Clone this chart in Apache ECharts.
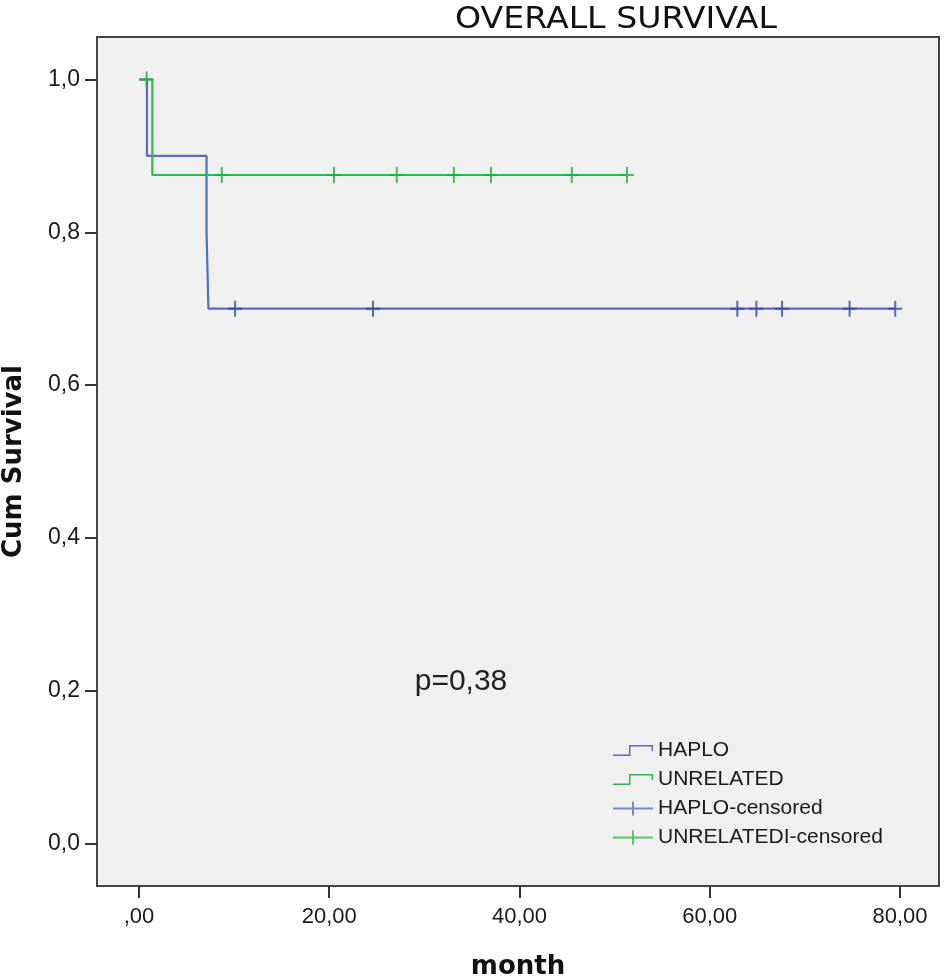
<!DOCTYPE html>
<html>
<head>
<meta charset="utf-8">
<title>Overall survival</title>
<script src="https://cdn.jsdelivr.net/npm/echarts@6/dist/echarts.min.js"></script>
<style>
    html, body { margin: 0; padding: 0; background: #fff; }
    #chart { width: 946px; height: 979px; }
</style>
</head>
<body>
<div id="chart"></div>
<script>
'use strict';

// Kaplan-Meier step points [month, cum survival]
var haploSteps = [[0, 1.0], [0.84, 0.9], [7.1, 0.8], [7.3, 0.7], [79.5, 0.7]];
var unrelatedSteps = [[0, 1.0], [1.4, 0.875], [51.3, 0.875]];

// censored observations
var haploCensored = [[10.1, 0.7], [24.6, 0.7], [62.9, 0.7], [64.9, 0.7], [67.6, 0.7], [74.7, 0.7], [79.5, 0.7]];
var unrelatedCensored = [[0.8, 1.0], [8.7, 0.875], [20.5, 0.875], [27.1, 0.875], [33.1, 0.875],
    [37.0, 0.875], [45.5, 0.875], [51.3, 0.875]];

var xTicks = [0, 20, 40, 60, 80];
var yTicks = [0, 0.2, 0.4, 0.6, 0.8, 1.0];

var blueLine = '#5a6bc0';
var blueMark = '#3347a6';
var greenLine = '#2fb845';
var greenMark = '#1fae3a';

var font = '"DejaVu Sans", "Liberation Sans", Arial, sans-serif';
var arial = '"Liberation Sans", Arial, sans-serif';

var stepIcon = 'path://M0,9.5 L16,9.5 L16,0 L40,0 L40,6 L38.5,6 L38.5,1.5 L17.5,1.5 L17.5,11 L0,11 Z';
var plusIcon = 'path://M0,6 L40,6 L40,8 L0,8 Z M19,0 L21,0 L21,14 L19,14 Z';
var censorSymbol = 'path://M0,7 L14,7 L14,9 L0,9 Z M6,0 L8,0 L8,16 L6,16 Z';

var chart = echarts.init(document.getElementById('chart'));

var option = {
    backgroundColor: '#ffffff',
    animation: false,
    grid: {
        left: 97,
        right: 7,
        top: 37,
        bottom: 93,
        outerBoundsMode: 'none',
        containLabel: false,
        show: true,
        backgroundColor: '#f0f0f0',
        borderColor: '#444444',
        borderWidth: 2
    },
    legend: {
        orient: 'vertical',
        left: 608,
        top: 735,
        itemWidth: 40,
        itemHeight: 14,
        itemGap: 8,
        textStyle: {
            fontFamily: arial,
            fontSize: 21,
            color: '#1a1a1a',
            lineHeight: 20
        },
        data: [
            {name: 'HAPLO', icon: stepIcon, itemStyle: {color: blueLine}},
            {name: 'UNRELATED', icon: stepIcon, itemStyle: {color: greenLine}},
            {name: 'HAPLO-censored', icon: plusIcon, itemStyle: {color: blueLine}},
            {name: 'UNRELATEDI-censored', icon: plusIcon, itemStyle: {color: greenLine}}
        ]
    },
    xAxis: {
        type: 'value',
        min: -4.415,
        max: 84.1,
        name: 'month',
        nameLocation: 'middle',
        nameGap: 68,
        nameTextStyle: {fontFamily: font, fontSize: 26, fontWeight: 'bold', color: '#111'},
        splitLine: {show: false},
        axisLine: {show: true, onZero: false, lineStyle: {color: '#444', width: 2}},
        axisTick: {
            show: true,
            inside: false,
            length: 12,
            customValues: xTicks,
            lineStyle: {color: '#333', width: 2}
        },
        axisLabel: {
            customValues: xTicks,
            margin: 20,
            fontFamily: arial,
            fontSize: 22,
            color: '#1a1a1a',
            formatter: function (v) {
                var s = v.toFixed(2).replace('.', ',');
                return v === 0 ? ',00' : s;
            }
        }
    },
    yAxis: {
        type: 'value',
        min: -0.0556,
        max: 1.0556,
        name: 'Cum Survival',
        nameLocation: 'middle',
        nameRotate: 90,
        nameGap: 70,
        nameTextStyle: {fontFamily: font, fontSize: 26, fontWeight: 'bold', color: '#111'},
        splitLine: {show: false},
        axisLine: {show: true, onZero: false, lineStyle: {color: '#444', width: 2}},
        axisTick: {
            show: true,
            inside: false,
            length: 12,
            customValues: yTicks,
            lineStyle: {color: '#333', width: 2}
        },
        axisLabel: {
            customValues: yTicks,
            margin: 17,
            fontFamily: arial,
            fontSize: 23,
            color: '#1a1a1a',
            formatter: function (v) {
                return v.toFixed(1).replace('.', ',');
            }
        }
    },
    graphic: [
        {
            type: 'text',
            x: 616,
            y: 20,
            scaleX: 1.07,
            style: {
                text: 'OVERALL SURVIVAL',
                fontFamily: font,
                fontSize: 31,
                fill: '#111',
                textAlign: 'center',
                textVerticalAlign: 'middle'
            }
        },
        {
            type: 'text',
            x: 461,
            y: 682,
            style: {
                text: 'p=0,38',
                fontFamily: arial,
                fontSize: 30,
                fill: '#222',
                textAlign: 'center',
                textVerticalAlign: 'middle'
            }
        }
    ],
    series: [
        {
            name: 'HAPLO',
            type: 'line',
            step: 'end',
            symbol: 'none',
            data: haploSteps,
            lineStyle: {color: blueLine, width: 2.2},
            itemStyle: {color: blueLine},
            z: 2
        },
        {
            name: 'UNRELATED',
            type: 'line',
            step: 'end',
            symbol: 'none',
            data: unrelatedSteps,
            lineStyle: {color: greenLine, width: 2.2},
            itemStyle: {color: greenLine},
            z: 3
        },
        {
            name: 'HAPLO-censored',
            type: 'scatter',
            symbol: censorSymbol,
            symbolSize: [14, 16],
            data: haploCensored,
            itemStyle: {color: blueMark},
            z: 4
        },
        {
            name: 'UNRELATEDI-censored',
            type: 'scatter',
            symbol: censorSymbol,
            symbolSize: [14, 16],
            data: unrelatedCensored,
            itemStyle: {color: greenMark},
            z: 5
        }
    ]
};

chart.setOption(option);
</script>
</body>
</html>
